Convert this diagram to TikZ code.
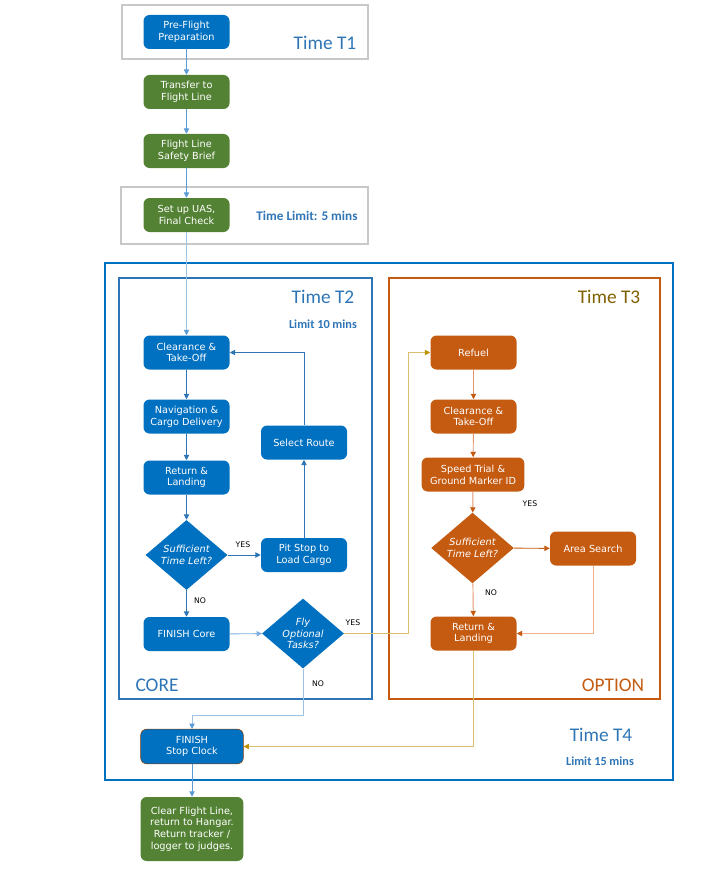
\documentclass[tikz,border=0pt]{standalone}
\usepackage{fontspec}
\setmainfont{DejaVu Sans}
\newfontfamily\titlefont{Carlito}
\usetikzlibrary{shapes.geometric,arrows.meta}

\definecolor{nodeblue}{HTML}{0070C0}
\definecolor{nodegreen}{HTML}{548235}
\definecolor{nodeorange}{HTML}{C55A11}
\definecolor{titleblue}{HTML}{2E75B6}
\definecolor{titlegold}{HTML}{806000}
\definecolor{framegray}{HTML}{C8C8C8}
\definecolor{lineblue}{HTML}{5B9BD5}
\definecolor{paleblue}{HTML}{9DC3E6}
\definecolor{goldline}{HTML}{DDBE6A}
\definecolor{goldtip}{HTML}{BF9000}
\definecolor{paleorange}{HTML}{F0B08A}
\definecolor{midorange}{HTML}{E0956A}

\tikzset{
  box/.style={rounded corners=4.5pt, minimum width=64.5pt, minimum height=25.5pt,
    text=white, font=\fontsize{7.3}{8.8}\selectfont, align=center, inner sep=1pt},
  bluebox/.style={box, fill=nodeblue},
  greenbox/.style={box, fill=nodegreen},
  orangebox/.style={box, fill=nodeorange},
  decision/.style={diamond, text=white, font=\fontsize{7.3}{8.8}\selectfont\itshape,
    align=center, inner sep=0pt, shape aspect=1.17},
  flow/.style={-{Triangle[length=4pt,width=4pt]}, line width=0.7pt},
  ttl/.style={font=\titlefont\fontsize{14.5}{16}\selectfont},
  lim/.style={font=\titlefont\bfseries\fontsize{9.2}{10}\selectfont, text=titleblue},
  yn/.style={font=\fontsize{5.8}{6}\selectfont},
}

\begin{document}
\begin{tikzpicture}[x=0.75pt,y=-0.75pt]
\useasboundingbox (0,0) rectangle (719,870);

% frames
\draw[framegray, line width=1.5pt] (122,5) rectangle (368,59);
\draw[framegray, line width=1.5pt] (121,187) rectangle (368,244);
\draw[nodeblue, line width=1.9pt] (105,263) rectangle (673,780);
\draw[titleblue, line width=1.6pt] (119,278) rectangle (372,699);
\draw[nodeorange, line width=1.4pt] (389,278) rectangle (660,699);

% frame titles
\node[ttl, text=titleblue] (t1) at (325,43) {Time T1};
\node[lim, font=\titlefont\bfseries\fontsize{9.9}{11}\selectfont] (t1lim) at (307,216) {Time Limit: 5 mins};
\node[ttl, text=titleblue] (t2) at (323,297) {Time T2};
\node[lim] (t2lim) at (323,324) {Limit 10 mins};
\node[ttl, text=titlegold] (t3) at (609,297) {Time T3};
\node[ttl, text=titleblue] (core) at (157,685) {CORE};
\node[ttl, text=nodeorange] (option) at (613,685) {OPTION};
\node[ttl, text=titleblue] (t4) at (601,735) {Time T4};
\node[lim] (t4lim) at (600,761) {Limit 15 mins};

% pre-flight sequence
\node[bluebox] (pre) at (186.5,32) {Pre-Flight\\Preparation};
\node[greenbox] (transfer) at (186.5,92) {Transfer to\\Flight Line};
\node[greenbox] (brief) at (186.5,151) {Flight Line\\Safety Brief};
\node[greenbox] (setup) at (186.5,215) {Set up UAS,\\Final Check};

% core tasks
\node[bluebox] (clr) at (186.5,352.5) {Clearance \&\\Take-Off};
\node[bluebox] (nav) at (186.5,416.5) {Navigation \&\\Cargo Delivery};
\node[bluebox] (ret) at (186.5,477.5) {Return \&\\Landing};
\node[decision, fill=nodeblue, minimum width=61.5pt, minimum height=52.5pt] (suff) at (186.5,555) {Sufficient\\Time Left?};
\node[bluebox] (pit) at (304,555) {Pit Stop to\\Load Cargo};
\node[bluebox] (route) at (304,442.5) {Select Route};
\node[bluebox] (fincore) at (186.5,634) {FINISH Core};
\node[decision, fill=nodeblue, minimum width=61.5pt, minimum height=52.5pt] (fly) at (303,633.5) {Fly\\Optional\\Tasks?};

% optional tasks
\node[orangebox] (refuel) at (473.5,352.5) {Refuel};
\node[orangebox] (clr3) at (473.5,416.5) {Clearance \&\\Take-Off};
\node[orangebox, minimum width=77pt] (speed) at (473,474.5) {Speed Trial \&\\Ground Marker ID};
\node[decision, fill=nodeorange, minimum width=62pt, minimum height=53pt] (suff3) at (472.5,548) {Sufficient\\Time Left?};
\node[orangebox] (area) at (593,548.5) {Area Search};
\node[orangebox] (ret3) at (473.5,633.5) {Return \&\\Landing};

% end of run
\node[bluebox, draw=nodeorange!70!black, line width=0.4pt, minimum width=77pt, minimum height=26pt] (finish) at (192,746.5) {FINISH\\Stop Clock};
\node[greenbox, minimum width=77pt, minimum height=48pt] (clear) at (192,829) {Clear Flight Line,\\return to Hangar.\\Return tracker /\\logger to judges.};

% bend points
\coordinate (yesbend) at (408,633.5);
\coordinate (nobend) at (303,715);

% connectors: pre-flight
\draw[flow, lineblue] (pre) -- (transfer);
\draw[flow, lineblue] (transfer) -- (brief);
\draw[flow, lineblue] (brief) -- (setup);
\draw[flow, paleblue, -{Triangle[length=4pt,width=4pt,color=lineblue]}] (setup) -- (clr);

% connectors: core
\draw[flow, titleblue] (clr) -- (nav);
\draw[flow, titleblue] (nav) -- (ret);
\draw[flow, titleblue] (ret) -- (suff);
\draw[flow, titleblue] (suff) -- (pit);
\draw[flow, titleblue] (suff) -- (fincore);
\draw[flow, titleblue] (pit) -- (route);
\draw[flow, titleblue] (route.north) |- (clr.east);
\draw[flow, lineblue!80] (fincore) -- (fly);
\draw[flow, goldline, -{Triangle[length=4pt,width=4pt,color=goldtip]}] (fly.east) -- (yesbend) |- (refuel.west);
\draw[flow, paleblue, -{Triangle[length=4pt,width=4pt,color=lineblue]}] (fly.south) -- (nobend) -| (finish.north);

% connectors: optional
\draw[flow, midorange, -{Triangle[length=4pt,width=4pt,color=nodeorange]}] (refuel) -- (clr3);
\draw[flow, midorange, -{Triangle[length=4pt,width=4pt,color=nodeorange]}] (clr3) -- (speed);
\draw[flow, midorange, -{Triangle[length=4pt,width=4pt,color=nodeorange]}] (speed) -- (suff3);
\draw[flow, nodeorange] (suff3) -- (area);
\draw[flow, midorange, -{Triangle[length=4pt,width=4pt,color=nodeorange]}] (suff3) -- (ret3);
\draw[flow, paleorange, -{Triangle[length=4pt,width=4pt,color=nodeorange]}] (area.south) |- (ret3.east);
\draw[flow, goldline, -{Triangle[length=4pt,width=4pt,color=goldtip]}] (ret3.south) |- (finish.east);
\draw[flow, lineblue] (finish) -- (clear);

% branch labels
\node[yn] (yes1) at (243,545) {YES};
\node[yn] (no1) at (200,601) {NO};
\node[yn] (yes2) at (353,623) {YES};
\node[yn] (no2) at (318,684) {NO};
\node[yn] (yes3) at (530,504) {YES};
\node[yn] (no3) at (491,593) {NO};
\end{tikzpicture}
\end{document}
